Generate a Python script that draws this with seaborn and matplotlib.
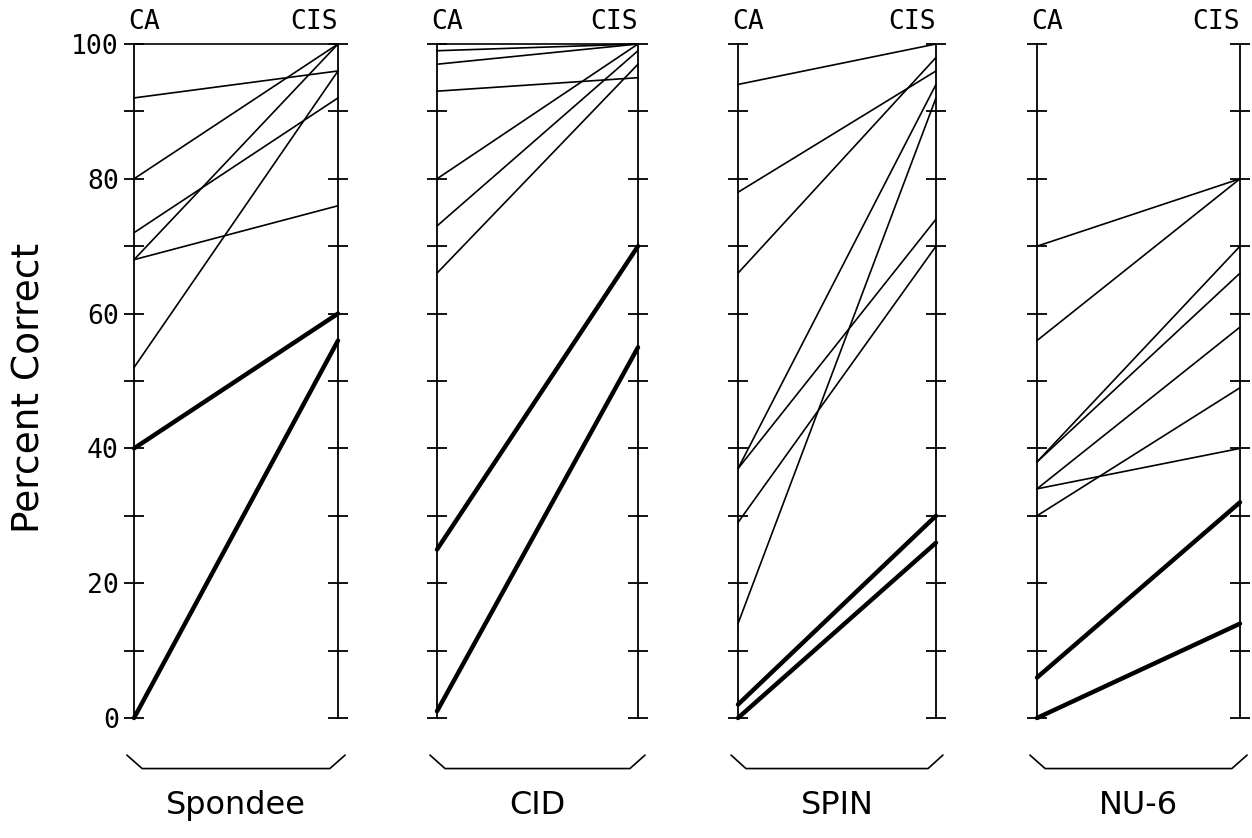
import numpy as np
import pandas as pd
import matplotlib
matplotlib.use("Agg")
import matplotlib.pyplot as plt
import seaborn as sns

################################################
#     Values (CA -> CIS)
################################################
tests = ["Spondee", "CID", "SPIN", "NU-6"]
conditions = ["CA", "CIS"]

spondee_ca = [100, 92, 80, 72, 68, 68, 52, 40, 0]
spondee_cis = [100, 96, 100, 92, 100, 76, 96, 60, 56]

cid_ca = [100, 99, 97, 93, 80, 73, 66, 25, 1]
cid_cis = [100, 100, 100, 95, 100, 99, 97, 70, 55]

spin_ca = [94, 78, 66, 37, 37, 29, 14, 2, 0]
spin_cis = [100, 96, 98, 94, 74, 70, 92, 30, 26]

nu6_ca = [70, 56, 38, 38, 34, 34, 30, 6, 0]
nu6_cis = [80, 80, 70, 66, 58, 40, 49, 32, 14]

# last two subjects in every panel are drawn bold
bold = [0, 0, 0, 0, 0, 0, 0, 1, 1]

yticks = list(range(0, 101, 10))
ylabels = [str(v) if v % 20 == 0 else "" for v in yticks]

panel_values = {
    "Spondee": (spondee_ca, spondee_cis),
    "CID": (cid_ca, cid_cis),
    "SPIN": (spin_ca, spin_cis),
    "NU-6": (nu6_ca, nu6_cis),
}

rows = []
for test in tests:
    ca, cis = panel_values[test]
    for i in range(len(ca)):
        grp = "bold" if bold[i] else "thin"
        rows.append({"test": test, "subject": i, "cond": 0, "value": ca[i], "group": grp})
        rows.append({"test": test, "subject": i, "cond": 1, "value": cis[i], "group": grp})
df = pd.DataFrame(rows)

################################################
#                 Plot
################################################
sns.set_theme(style="white")
plt.rcParams["font.family"] = ["DejaVu Sans"]
plt.rcParams["text.color"] = "black"

W, H = 1252, 838
fig = plt.figure(figsize=(W / 100, H / 100), dpi=100)

left_px = [134, 437, 738, 1037]
right_px = [338, 638, 936, 1240]
top_px, bot_px = 44, 718

for k, test in enumerate(tests):
    ax = fig.add_axes([left_px[k] / W, 1 - bot_px / H,
                       (right_px[k] - left_px[k]) / W, (bot_px - top_px) / H])
    sub = df[df["test"] == test]
    sns.lineplot(data=sub, x="cond", y="value", units="subject", estimator=None,
                 size="group", sizes={"thin": 1.2, "bold": 3.2},
                 color="black", legend=False, ax=ax, clip_on=False)
    for ln in ax.lines:
        ln.set_solid_capstyle("round")

    ax.set_xlim(0, 1)
    ax.set_ylim(0, 100)
    ax.set_xticks([])
    ax.set_yticks(yticks)
    ax.set_xlabel("")
    ax.set_ylabel("")
    ax.set_facecolor("none")
    for side in ["top", "bottom"]:
        ax.spines[side].set_visible(False)
    for side in ["left", "right"]:
        ax.spines[side].set_color("black")
        ax.spines[side].set_linewidth(1.3)
    ax.tick_params(axis="y", direction="inout", length=14, width=1.3,
                   left=True, right=True, colors="black")
    if k == 0:
        ax.set_yticklabels(ylabels, fontfamily="DejaVu Sans Mono", fontsize=19)
        ax.tick_params(axis="y", pad=4)
    else:
        ax.set_yticklabels([])

    # condition names above the two axes
    ax.text(-0.03, 1.014, conditions[0], transform=ax.transAxes, ha="left", va="bottom",
            fontfamily="DejaVu Sans Mono", fontsize=19, color="black")
    ax.text(1.0, 1.014, conditions[1], transform=ax.transAxes, ha="right", va="bottom",
            fontfamily="DejaVu Sans Mono", fontsize=19, color="black")

    # bracket under the panel
    ax.plot([-0.035, 0.04, 0.96, 1.035], [-0.055, -0.075, -0.075, -0.055],
            transform=ax.transAxes, color="black", lw=1.2, clip_on=False)
    ax.text(0.5, -0.13, test, transform=ax.transAxes, ha="center", va="center",
            fontsize=23, color="black")

fig.text(30 / W, 1 - 388 / H, "Percent Correct", rotation=90, ha="center", va="center",
         fontsize=27, color="black")

fig.savefig("out.png", dpi=100, facecolor="white")
plt.close()
